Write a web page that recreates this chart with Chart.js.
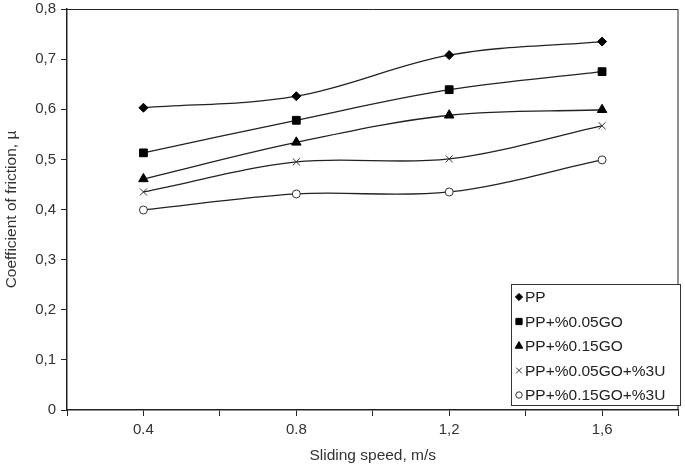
<!DOCTYPE html>
<html>
<head>
<meta charset="utf-8">
<script src="https://cdn.jsdelivr.net/npm/chart.js@4"></script>
<style>
  html, body { margin: 0; padding: 0; background: #fff; }
  #wrap { width: 685px; height: 470px; position: relative; }
</style>
</head>
<body>
<div id="wrap"><canvas id="friction-chart" width="685" height="470"></canvas></div>
<script>
// sliding speed (m/s) and coefficient of friction
const speeds = [0.4, 0.8, 1.2, 1.6];
const seriesNames = ['PP', 'PP+%0.05GO', 'PP+%0.15GO', 'PP+%0.05GO+%3U', 'PP+%0.15GO+%3U'];
const ppValues = [0.603, 0.626, 0.708, 0.735];
const go005Values = [0.513, 0.578, 0.639, 0.675];
const go015Values = [0.461, 0.534, 0.588, 0.599];
const go005uValues = [0.435, 0.495, 0.501, 0.567];
const go015uValues = [0.399, 0.431, 0.435, 0.499];

const xTickLabels = { '0.4': '0.4', '0.8': '0.8', '1.2': '1,2', '1.6': '1,6' };
const yTickLabels = ['0', '0,1', '0,2', '0,3', '0,4', '0,5', '0,6', '0,7', '0,8'];

const FONT = 'Liberation Sans, Arial, sans-serif';
const INK = '#222';

const markerStyles = [
  { pointStyle: 'rectRot', radius: 4.5, fill: '#000', stroke: '#000', width: 1 },
  { pointStyle: 'rect', radius: 5.5, fill: '#000', stroke: '#000', width: 1 },
  { pointStyle: 'triangle', radius: 5.5, fill: '#000', stroke: '#000', width: 1 },
  { pointStyle: 'crossRot', radius: 5, fill: '#fff', stroke: '#333', width: 1 },
  { pointStyle: 'circle', radius: 4, fill: '#fff', stroke: '#333', width: 1 }
];

const valueSets = [ppValues, go005Values, go015Values, go005uValues, go015uValues];

const datasets = valueSets.map((vals, i) => ({
  label: seriesNames[i],
  data: speeds.map((s, j) => ({ x: s, y: vals[j] })),
  borderColor: INK,
  borderWidth: 1.3,
  tension: 0.35,
  fill: false,
  pointStyle: markerStyles[i].pointStyle,
  pointRadius: markerStyles[i].radius,
  pointBackgroundColor: markerStyles[i].fill,
  pointBorderColor: markerStyles[i].stroke,
  pointBorderWidth: markerStyles[i].width
}));

// frame round the plot area + legend box in the lower right
const framePlugin = {
  id: 'frameAndLegend',
  afterDraw(chart) {
    const { ctx, chartArea: a } = chart;
    ctx.save();
    ctx.strokeStyle = INK;
    ctx.lineWidth = 1;
    ctx.beginPath();
    ctx.moveTo(a.left, a.top + 0.5);
    ctx.lineTo(a.right - 0.5, a.top + 0.5);
    ctx.lineTo(a.right - 0.5, a.bottom);
    ctx.stroke();

    // legend
    const bx = 511, by = 284, bw = 169, bh = 121;
    ctx.fillStyle = '#fff';
    ctx.fillRect(bx, by, bw, bh);
    ctx.strokeStyle = '#333';
    ctx.strokeRect(bx + 0.5, by + 0.5, bw, bh);
    ctx.font = '15.5px ' + FONT;
    ctx.textBaseline = 'middle';
    seriesNames.forEach((name, i) => {
      const y = by + 13 + i * 24.5;
      const m = markerStyles[i];
      ctx.fillStyle = m.fill;
      ctx.strokeStyle = m.stroke;
      ctx.lineWidth = m.width;
      Chart.helpers.drawPoint(ctx, { pointStyle: m.pointStyle, radius: m.radius * 0.8, rotation: 0, borderWidth: m.width }, bx + 8, y);
      ctx.fillStyle = '#222';
      ctx.fillText(name, bx + 14, y + 1);
    });
    ctx.restore();
  }
};

new Chart(document.getElementById('friction-chart'), {
  type: 'line',
  data: { datasets },
  plugins: [framePlugin],
  options: {
    responsive: false,
    animation: false,
    layout: { padding: { top: 9, right: 2, left: 0, bottom: 0 } },
    plugins: { legend: { display: false }, tooltip: { enabled: false } },
    scales: {
      x: {
        type: 'linear',
        min: 0.2,
        max: 1.8,
        afterFit: s => { s.height = 60; s.paddingLeft = 0; s.paddingRight = 0; },
        ticks: {
          stepSize: 0.2,
          autoSkip: false,
          maxRotation: 0,
          color: '#333',
          font: { family: FONT, size: 15 },
          padding: 5,
          callback: v => xTickLabels[v.toFixed(1)] || ''
        },
        grid: { drawOnChartArea: false, drawTicks: true, tickLength: 6, color: INK },
        border: { color: INK, width: 1.5 },
        title: {
          display: true,
          text: 'Sliding speed, m/s',
          color: '#333',
          font: { family: FONT, size: 15.5 },
          padding: { top: 4, bottom: 5 }
        }
      },
      y: {
        min: 0,
        max: 0.8,
        afterFit: s => { s.width = 67; s.paddingTop = 0; s.paddingBottom = 0; },
        ticks: {
          stepSize: 0.1,
          color: '#333',
          font: { family: FONT, size: 15 },
          padding: 5,
          callback: (v, i) => yTickLabels[Math.round(v * 10)]
        },
        grid: { drawOnChartArea: false, drawTicks: true, tickLength: 6, color: INK },
        border: { color: INK, width: 1.5 },
        title: {
          display: true,
          text: 'Coefficient of friction, µ',
          color: '#333',
          font: { family: FONT, size: 15.5 },
          padding: { top: 2, bottom: 0 }
        }
      }
    }
  }
});
</script>
</body>
</html>
